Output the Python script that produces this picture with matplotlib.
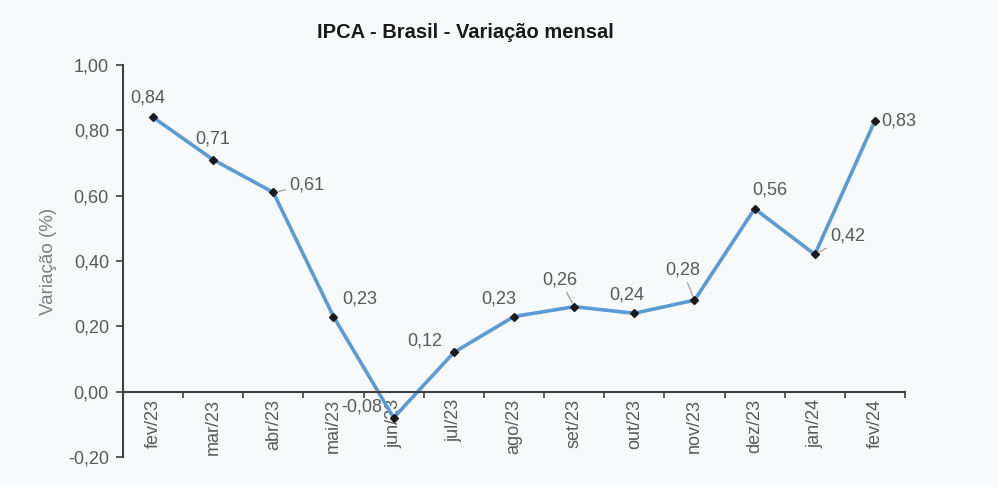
import matplotlib
matplotlib.use("Agg")
import matplotlib.pyplot as plt
import numpy as np

categories = ["fev/23", "mar/23", "abr/23", "mai/23", "jun/23", "jul/23", "ago/23",
              "set/23", "out/23", "nov/23", "dez/23", "jan/24", "fev/24"]
values = [0.84, 0.71, 0.61, 0.23, -0.08, 0.12, 0.23, 0.26, 0.24, 0.28, 0.56, 0.42, 0.83]
label_texts = ["0,84", "0,71", "0,61", "0,23", "-0,08", "0,12", "0,23", "0,26", "0,24",
               "0,28", "0,56", "0,42", "0,83"]
yticks = [-0.2, 0.0, 0.2, 0.4, 0.6, 0.8, 1.0]
ytick_labels = ["-0,20", "0,00", "0,20", "0,40", "0,60", "0,80", "1,00"]

# label offsets in pixels (dx, dy) and leader flag
offsets = [(-5, 19), (0, 21), (34, 7), (26, 18), (-32, 11), (-29, 11), (-15, 18),
           (-14, 27), (-8, 18), (-12, 30), (15, 19), (33, 18), (24, 0)]
leaders = [False, False, True, False, False, False, False, True, False, True, False, True, False]

plt.rcParams['font.family'] = ['Liberation Sans', 'DejaVu Sans']
bg = "#f8f9fb"
fs = 13
fig = plt.figure(figsize=(9.99, 4.87), dpi=100, facecolor=bg)
ax = fig.add_axes([0.123, 0.0616, 0.783, 0.805], facecolor=bg)

x = np.arange(len(categories))
ax.plot(x, values, color="#5b9bd5", lw=2.6, zorder=2)
ax.plot(x, values, ls="none", marker="D", ms=4.5, color="#1a1a1a", zorder=3)

gray = "#595959"
for xi, v, t, (dx, dy), ld in zip(x, values, label_texts, offsets, leaders):
    ax.annotate(t, (xi, v), xytext=(dx, dy), textcoords="offset pixels",
                ha="center", va="center", fontsize=fs, color=gray,
                arrowprops=dict(arrowstyle="-", color="#a6a6a6", lw=1.0,
                                shrinkA=1, shrinkB=3) if ld else None)

ax.set_xlim(-0.5, len(categories) - 0.5)
ax.set_ylim(-0.2, 1.0)
ax.set_yticks(yticks)
ax.set_yticklabels(ytick_labels)
ax.set_xticks(np.arange(len(categories) + 1) - 0.5)
ax.set_xticklabels([])
ax.set_xticks(x, minor=True)
ax.set_xticklabels(categories, minor=True)
ax.tick_params(axis="x", which="minor", length=0, pad=5, labelrotation=90,
               labelsize=fs, labelcolor=gray)
ax.tick_params(axis="x", which="major", length=4, width=1.2, color="#404040", direction="out")
ax.tick_params(axis="y", length=5, width=1.2, color="#404040", direction="out", pad=5,
               labelsize=fs, labelcolor=gray)

for s in ["top", "right"]:
    ax.spines[s].set_visible(False)
ax.spines["bottom"].set_position(("data", 0))
ax.spines["bottom"].set_color("#404040")
ax.spines["bottom"].set_linewidth(1.5)
ax.spines["left"].set_color("#404040")
ax.spines["left"].set_linewidth(1.5)

ax.set_ylabel("Variação (%)", fontsize=13.5, color="#7f7f7f", labelpad=8)
fig.text(0.466, 1 - 32 / 487, "IPCA - Brasil - Variação mensal", ha="center", va="center",
         fontsize=14.5, fontweight="bold", color="#1a1a1a")

fig.savefig("out.png", dpi=100, facecolor=bg)
